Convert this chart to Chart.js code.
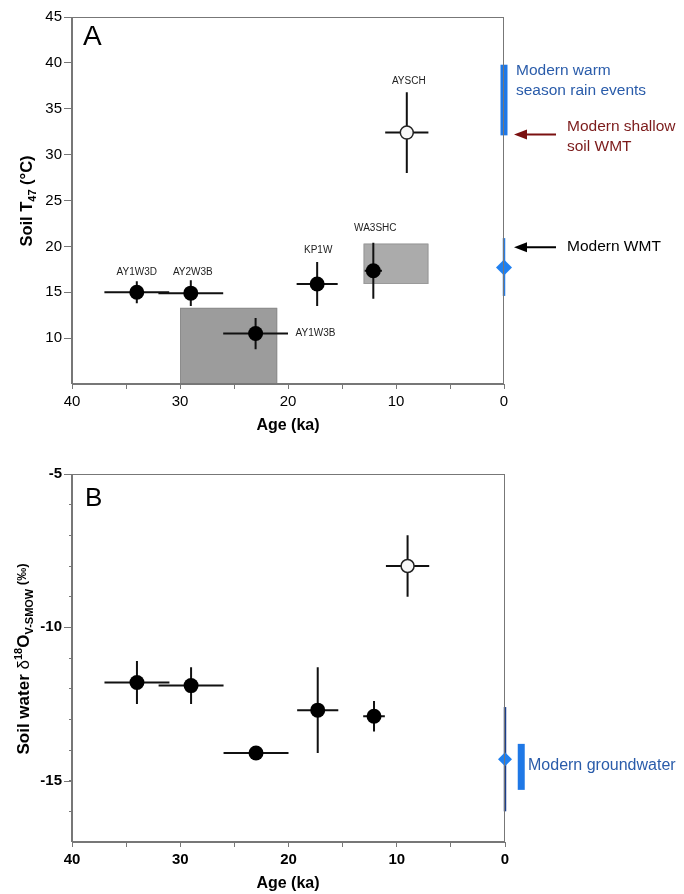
<!DOCTYPE html>
<html><head><meta charset="utf-8">
<script src="https://cdn.jsdelivr.net/npm/chart.js@4.4.1/dist/chart.umd.min.js"></script>
<style>
body{margin:0;background:#fff;width:684px;height:894px;overflow:hidden;position:relative}
canvas{position:absolute;left:0}
#c1{top:0}#c2{top:440px}
</style></head>
<body>
<canvas id="c1" width="684" height="440"></canvas>
<canvas id="c2" width="684" height="454"></canvas>
<script>
// ---------- DATA ----------
const sampleNames   = ['AY1W3D', 'AY2W3B', 'AY1W3B', 'KP1W', 'WA3SHC'];
const sampleAge     = [34, 29, 23, 17.3, 12.1];
const sampleAgeErrT = [3, 3, 3, 1.9, 0.8];
const soilT         = [15, 14.9, 10.5, 15.9, 17.35];
const soilTErr      = [1.2, 1.4, 1.7, 2.4, 3.05];

const openName   = 'AYSCH';
const openAge    = [9];
const openAgeErr = [2];
const openT      = [32.4];
const openTErr   = [4.4];

const boxAgeFrom = [30, 13];
const boxAgeTo   = [21, 7];
const boxTLow    = [5, 15.9];
const boxTHigh   = [13.3, 20.3];

const warmRainT       = [32.1, 39.8];
const modernWMTRange  = [14.6, 20.9];
const modernWMT       = [17.7];
const shallowSoilWMT  = 32.2;
const modernWMTArrow  = 19.9;

const sampleAgeErrO = [3, 3, 3, 1.9, 1];
const d18O          = [-11.8, -11.9, -14.1, -12.7, -12.9];
const d18OErr       = [0.7, 0.6, 0, 1.4, 0.5];
const openD18O      = [-8.0];
const openD18OErr   = [1.0];

const groundwaterRange = [-16.0, -12.6];
const groundwaterMean  = [-14.3];
const groundwaterBar   = [-15.3, -13.8];

const ageTicks  = [40, 30, 20, 10, 0];
const tTicks    = [10, 15, 20, 25, 30, 35, 40, 45];
const d18OTicks = [-5, -10, -15];

// ---------- STYLE ----------
const F = "'Liberation Sans', Arial, sans-serif";
const AXIS = '#777';
const labelStyle = [ // pixel offsets of sample labels from their points
  {dx: 0, dy: -20, align: 'center'},
  {dx: 2, dy: -21, align: 'center'},
  {dx: 40, dy: 0, align: 'left'},
  {dx: 1, dy: -34, align: 'center'},
  {dx: 2, dy: -42, align: 'center'}
];

function xy(xs, ys) { return xs.map((x, i) => ({x: x, y: ys[i]})); }

function drawRich(ctx, parts, cx, cy, rot) {
  ctx.save();
  ctx.translate(cx, cy);
  ctx.rotate(rot);
  let total = 0;
  parts.forEach(p => { ctx.font = p.font; p.w = ctx.measureText(p.t).width; total += p.w; });
  let x = -total / 2;
  ctx.textAlign = 'left';
  ctx.textBaseline = 'alphabetic';
  ctx.fillStyle = '#000';
  parts.forEach(p => { ctx.font = p.font; ctx.fillText(p.t, x, 6 + (p.dy || 0)); x += p.w; });
  ctx.restore();
}

function errBars(ctx, xs, s, xs_, ys, xe, ye) {
  ctx.save();
  ctx.strokeStyle = '#111';
  ctx.lineWidth = 2;
  xs.forEach((x, i) => {
    const px = s.x.getPixelForValue(x), py = s.y.getPixelForValue(ys[i]);
    ctx.beginPath();
    if (xe[i]) { ctx.moveTo(s.x.getPixelForValue(x - xe[i]), py); ctx.lineTo(s.x.getPixelForValue(x + xe[i]), py); }
    if (ye[i]) { ctx.moveTo(px, s.y.getPixelForValue(ys[i] - ye[i])); ctx.lineTo(px, s.y.getPixelForValue(ys[i] + ye[i])); }
    ctx.stroke();
  });
  ctx.restore();
}

function vline(ctx, s, xv, y0, y1, w, col) {
  const px = s.x.getPixelForValue(xv);
  ctx.save();
  ctx.strokeStyle = col; ctx.lineWidth = w; ctx.lineCap = 'butt';
  ctx.beginPath();
  ctx.moveTo(px, s.y.getPixelForValue(y0));
  ctx.lineTo(px, s.y.getPixelForValue(y1));
  ctx.stroke();
  ctx.restore();
}

function arrow(ctx, x0, x1, y, col) {
  ctx.save();
  ctx.strokeStyle = col; ctx.fillStyle = col; ctx.lineWidth = 2;
  ctx.beginPath(); ctx.moveTo(x0, y); ctx.lineTo(x1 + 8, y); ctx.stroke();
  ctx.beginPath(); ctx.moveTo(x1, y); ctx.lineTo(x1 + 13, y - 5); ctx.lineTo(x1 + 13, y + 5); ctx.closePath(); ctx.fill();
  ctx.restore();
}

function frame(chart) {
  const a = chart.chartArea, ctx = chart.ctx;
  ctx.save();
  ctx.strokeStyle = AXIS; ctx.lineWidth = 1;
  ctx.strokeRect(Math.round(a.left) - 0.5, Math.round(a.top) + 0.5, Math.round(a.right - a.left), Math.round(a.bottom - a.top) - 1);
  ctx.restore();
}

function text(ctx, t, x, y, font, col, align) {
  ctx.save();
  ctx.font = font; ctx.fillStyle = col; ctx.textAlign = align || 'left'; ctx.textBaseline = 'middle';
  ctx.fillText(t, x, y);
  ctx.restore();
}

// ---------- TOP CHART ----------
const topPlugin = {
  id: 'topExtras',
  beforeDatasetsDraw(chart) {
    const ctx = chart.ctx, s = chart.scales;
    boxAgeFrom.forEach((a, i) => {
      const x0 = s.x.getPixelForValue(a), x1 = s.x.getPixelForValue(boxAgeTo[i]);
      const y0 = s.y.getPixelForValue(boxTHigh[i]), y1 = s.y.getPixelForValue(boxTLow[i]);
      ctx.save();
      ctx.fillStyle = i === 0 ? '#9c9c9c' : '#ababab';
      ctx.strokeStyle = i === 0 ? '#8c8c8c' : '#9a9a9a';
      ctx.lineWidth = 1;
      ctx.fillRect(x0, y0, x1 - x0, y1 - y0);
      ctx.strokeRect(x0 + 0.5, y0 + 0.5, x1 - x0 - 1, y1 - y0 - 1);
      ctx.restore();
    });
    errBars(ctx, sampleAge, s, null, soilT, sampleAgeErrT, soilTErr);
    errBars(ctx, openAge, s, null, openT, openAgeErr, openTErr);
    vline(ctx, s, 0, warmRainT[0], warmRainT[1], 7, '#1f78e6');
    vline(ctx, s, 0, modernWMTRange[0], modernWMTRange[1], 2.5, '#2a7de1');
  },
  afterDraw(chart) {
    const ctx = chart.ctx, s = chart.scales;
    frame(chart);
    const lf = '10px ' + F;
    sampleNames.forEach((n, i) => {
      const st = labelStyle[i];
      text(ctx, n, s.x.getPixelForValue(sampleAge[i]) + st.dx, s.y.getPixelForValue(soilT[i]) + st.dy, lf, '#222', st.align);
    });
    text(ctx, openName, s.x.getPixelForValue(openAge[0]) + 2, s.y.getPixelForValue(openT[0]) - 51, lf, '#222', 'center');
    text(ctx, 'A', 83, 37, '28px ' + F, '#000');
    const bf = '15.5px ' + F;
    text(ctx, 'Modern warm', 516, 71, bf, '#2a5caa');
    text(ctx, 'season rain events', 516, 91, bf, '#2a5caa');
    text(ctx, 'Modern shallow', 567, 127, bf, '#7b1a1a');
    text(ctx, 'soil WMT', 567, 147, bf, '#7b1a1a');
    text(ctx, 'Modern WMT', 567, 247, bf, '#000');
    arrow(ctx, 556, 514, s.y.getPixelForValue(shallowSoilWMT), '#7b1010');
    arrow(ctx, 556, 514, s.y.getPixelForValue(modernWMTArrow), '#000');
    text(ctx, 'Age (ka)', 288, 426, 'bold 16px ' + F, '#000', 'center');
    drawRich(ctx, [
      {t: 'Soil T', font: 'bold 16.5px ' + F},
      {t: '47', font: 'bold 11px ' + F, dy: 4},
      {t: ' (°C)', font: 'bold 16.5px ' + F}
    ], 26, 201, -Math.PI / 2);
  }
};

new Chart(document.getElementById('c1'), {
  type: 'scatter',
  data: {
    datasets: [
      {data: xy(sampleAge, soilT), backgroundColor: '#000', borderWidth: 0, pointRadius: 7.5},
      {data: xy(openAge, openT), backgroundColor: '#f7f7f7', borderColor: '#222', borderWidth: 1.5, pointRadius: 6.5},
      {data: xy([0], modernWMT), pointStyle: 'rectRot', backgroundColor: '#2080f0', borderWidth: 0, pointRadius: 8, clip: false}
    ]
  },
  options: {
    responsive: false, animation: false, events: [], devicePixelRatio: 1,
    layout: {padding: {left: 0, right: 180, top: 17, bottom: 0}},
    plugins: {legend: {display: false}, tooltip: {enabled: false}},
    scales: {
      x: {
        type: 'linear', reverse: true, min: 0, max: 40,
        afterFit(sc) { sc.height = 56; },
        ticks: {stepSize: 5, autoSkip: false, maxRotation: 0, color: '#000', padding: 4, font: {size: 15, family: F},
          callback: v => ageTicks.includes(v) ? String(v) : ''},
        grid: {drawOnChartArea: false, drawTicks: true, tickLength: 5, color: AXIS},
        border: {color: AXIS, width: 1}
      },
      y: {
        min: 5, max: 45,
        afterFit(sc) { sc.width = 72; },
        ticks: {stepSize: 5, autoSkip: false, color: '#000', padding: 2, font: {size: 15, family: F},
          callback: v => tTicks.includes(v) ? String(v) : ''},
        grid: {drawOnChartArea: false, drawTicks: true, tickLength: 8, color: AXIS,
          tickColor: c => (c.tick && c.tick.value === 5) ? 'rgba(0,0,0,0)' : AXIS},
        border: {color: AXIS, width: 1}
      }
    }
  },
  plugins: [topPlugin]
});

// ---------- BOTTOM CHART ----------
const botPlugin = {
  id: 'botExtras',
  beforeDatasetsDraw(chart) {
    const ctx = chart.ctx, s = chart.scales;
    errBars(ctx, sampleAge, s, null, d18O, sampleAgeErrO, d18OErr);
    errBars(ctx, openAge, s, null, openD18O, openAgeErr, openD18OErr);
    vline(ctx, s, 0, groundwaterRange[0], groundwaterRange[1], 2.5, '#1c3f8c');
    vline(ctx, s, -1.5, groundwaterBar[0], groundwaterBar[1], 7, '#1f78e6');
  },
  afterDraw(chart) {
    const ctx = chart.ctx, s = chart.scales;
    frame(chart);
    // longer major ticks on y
    ctx.save();
    ctx.strokeStyle = AXIS; ctx.lineWidth = 1;
    d18OTicks.forEach(v => {
      const py = Math.round(s.y.getPixelForValue(v)) + 0.5;
      ctx.beginPath(); ctx.moveTo(s.y.right - 8, py); ctx.lineTo(s.y.right, py); ctx.stroke();
    });
    ctx.restore();
    text(ctx, 'B', 85, 59, '26px ' + F, '#000');
    text(ctx, 'Modern groundwater', 528, 326, '16px ' + F, '#2a5caa');
    text(ctx, 'Age (ka)', 288, 444, 'bold 16px ' + F, '#000', 'center');
    drawRich(ctx, [
      {t: 'Soil water ', font: 'bold 17px ' + F},
      {t: 'δ', font: '17px ' + F},
      {t: '18', font: 'bold 11px ' + F, dy: -7},
      {t: 'O', font: 'bold 17px ' + F},
      {t: 'V-SMOW', font: 'bold 11px ' + F, dy: 4},
      {t: ' (‰)', font: 'bold 13px ' + F, dy: -3}
    ], 23, 219, -Math.PI / 2);
  }
};

new Chart(document.getElementById('c2'), {
  type: 'scatter',
  data: {
    datasets: [
      {data: xy(sampleAge, d18O), backgroundColor: '#000', borderWidth: 0, pointRadius: 7.5},
      {data: xy(openAge, openD18O), backgroundColor: '#f7f7f7', borderColor: '#222', borderWidth: 1.5, pointRadius: 6.5},
      {data: xy([0], groundwaterMean), pointStyle: 'rectRot', backgroundColor: '#2080f0', borderWidth: 0, pointRadius: 7, clip: false}
    ]
  },
  options: {
    responsive: false, animation: false, events: [], devicePixelRatio: 1,
    layout: {padding: {left: 0, right: 179, top: 34, bottom: 0}},
    plugins: {legend: {display: false}, tooltip: {enabled: false}},
    scales: {
      x: {
        type: 'linear', reverse: true, min: 0, max: 40,
        afterFit(sc) { sc.height = 52; },
        ticks: {stepSize: 5, autoSkip: false, maxRotation: 0, color: '#000', padding: 4, font: {size: 15, family: F, weight: 'bold'},
          callback: v => ageTicks.includes(v) ? String(v) : ''},
        grid: {drawOnChartArea: false, drawTicks: true, tickLength: 5, color: AXIS},
        border: {color: AXIS, width: 1}
      },
      y: {
        min: -17, max: -5,
        afterFit(sc) { sc.width = 72; },
        ticks: {stepSize: 1, autoSkip: false, color: '#000', padding: 7, font: {size: 15, family: F, weight: 'bold'},
          callback: v => d18OTicks.includes(v) ? String(v) : ''},
        grid: {drawOnChartArea: false, drawTicks: true, tickLength: 3, color: AXIS,
          tickColor: c => (c.tick && c.tick.value === -17) ? 'rgba(0,0,0,0)' : AXIS},
        border: {color: AXIS, width: 1}
      }
    }
  },
  plugins: [botPlugin]
});
</script>
</body></html>
